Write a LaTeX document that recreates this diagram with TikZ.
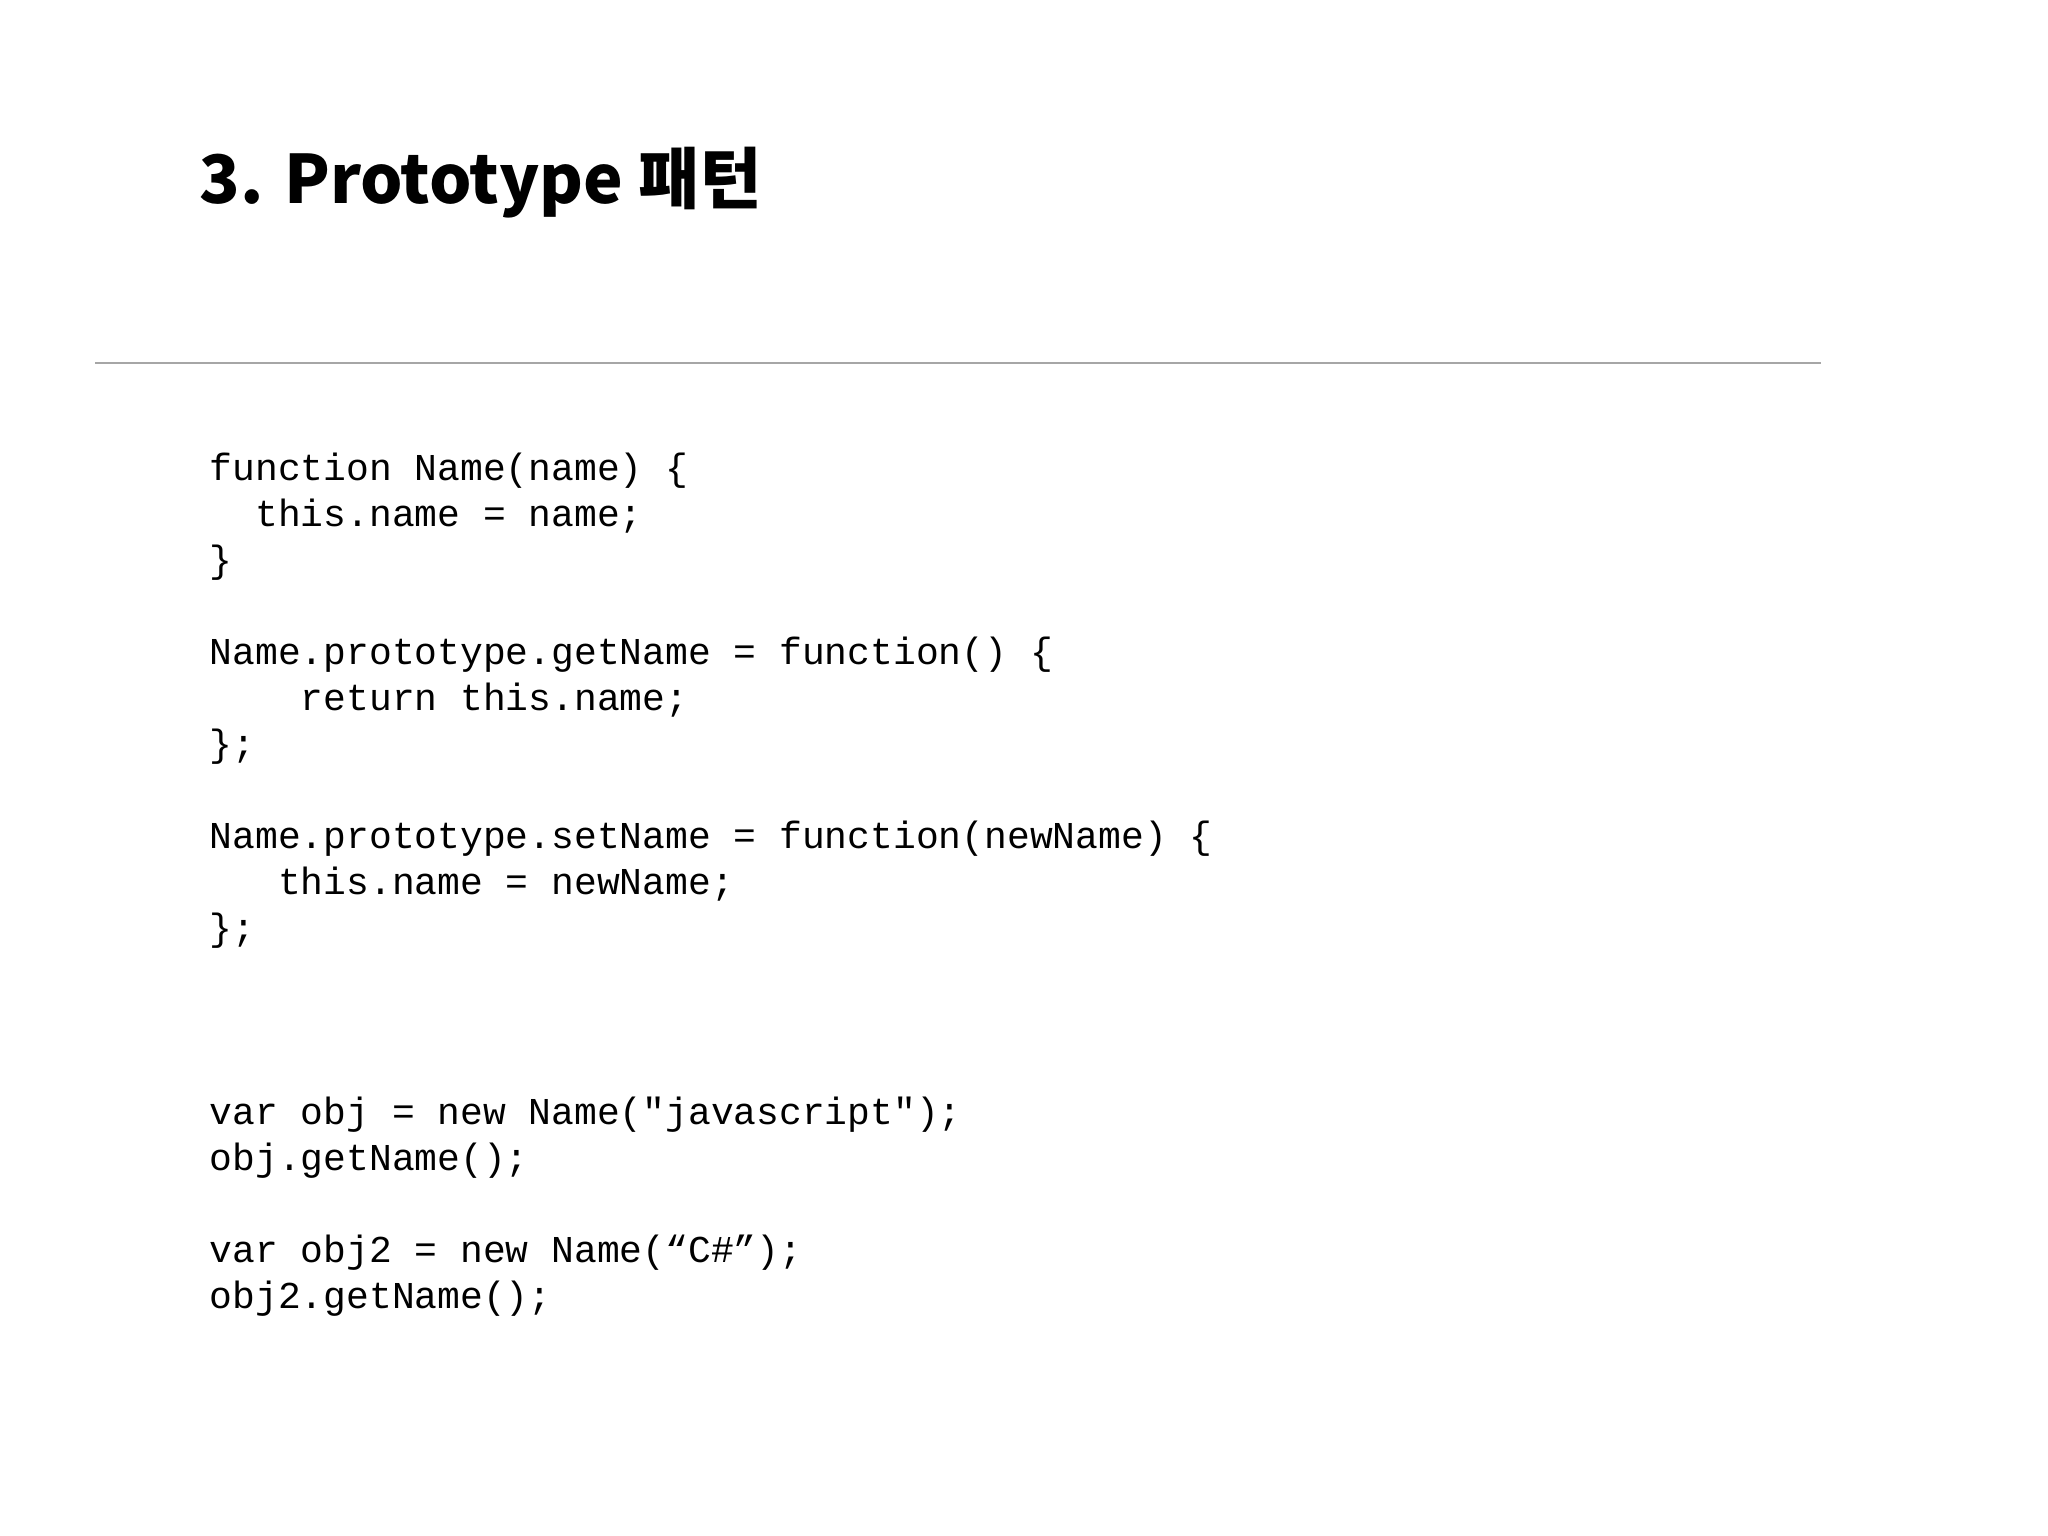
\documentclass[tikz,border=0pt]{standalone}
\usepackage{fontspec}
\setmonofont{Liberation Mono}
\newfontfamily\krfont{Noto Sans CJK KR}
\begin{document}
\begin{tikzpicture}[x=0.01cm,y=-0.01cm,
  code/.style={anchor=base west,inner sep=0pt,font=\ttfamily\fontsize{10.8pt}{13pt}\selectfont}]
\useasboundingbox[fill=white] (0,0) rectangle (2048,1536);
\node[anchor=base west,inner sep=0pt,font=\krfont\bfseries\fontsize{19pt}{23pt}\selectfont] (title) at (199,203) {3. Prototype 패턴};
\coordinate (la) at (95,363); \coordinate (lb) at (1821,363);
\draw[gray!70,line width=0.8pt] (la) -- (lb);
\def\L{46}
\node[code] (c1) at (209,480) {function Name(name) \{};
\node[code] (c2) at (209,480+\L) {\ \ this.name = name;};
\node[code] (c3) at (209,480+2*\L) {\}};
\node[code] (c4) at (209,480+4*\L) {Name.prototype.getName = function() \{};
\node[code] (c5) at (209,480+5*\L) {\ \ \ \ return this.name;};
\node[code] (c6) at (209,480+6*\L) {\};};
\node[code] (c7) at (209,480+8*\L) {Name.prototype.setName = function(newName) \{};
\node[code] (c8) at (209,480+9*\L) {\ \ \ this.name = newName;};
\node[code] (c9) at (209,480+10*\L) {\};};
\node[code] (c10) at (209,480+14*\L) {var obj = new Name("javascript");};
\node[code] (c11) at (209,480+15*\L) {obj.getName();};
\node[code] (c12) at (209,480+17*\L) {var obj2 = new Name(“C\#”);};
\node[code] (c13) at (209,480+18*\L) {obj2.getName();};
\end{tikzpicture}
\end{document}
